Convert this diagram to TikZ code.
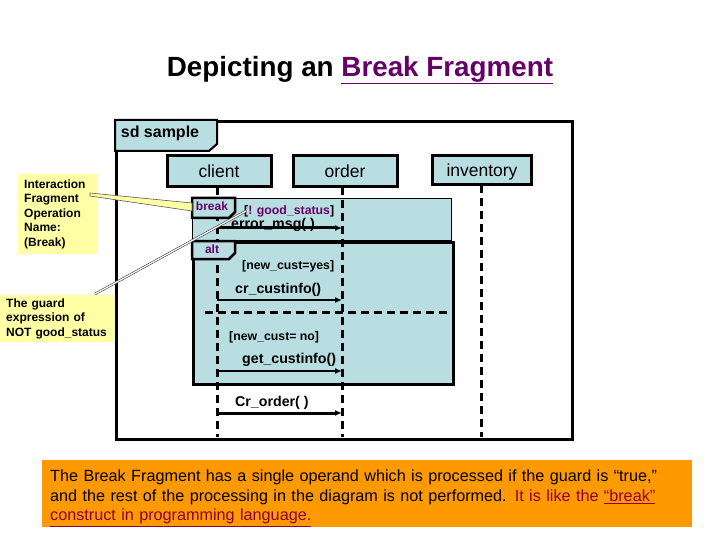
\documentclass[tikz,border=0pt]{standalone}
\usepackage{fontspec}
\setmainfont{Liberation Sans}
\usetikzlibrary{arrows.meta}
\definecolor{lb}{RGB}{185,222,226}
\definecolor{pur}{RGB}{102,0,102}
\definecolor{notey}{RGB}{255,255,165}
\definecolor{orng}{RGB}{255,153,0}
\definecolor{dred}{RGB}{140,0,55}
\newcommand\fsz[2]{\fontsize{#1}{#2}\selectfont}
\tikzset{
  lifebox/.style={draw, line width=3pt, fill=lb, minimum width=104pt, minimum height=31pt, inner sep=0pt, font=\fsz{17.5}{20}},
  lifeline/.style={line width=3pt, dash pattern=on 8pt off 5pt},
  tabbox/.style={draw, line width=2.5pt, fill=lb},
  msg/.style={-{Latex[length=7pt,width=6pt]}},
  msgtext/.style={anchor=west, inner sep=0pt, font=\bfseries\fsz{14.2}{16}},
  guard/.style={anchor=west, inner sep=0pt, font=\bfseries\fsz{12.3}{15}},
  tabtext/.style={inner sep=0pt, text=pur, font=\bfseries\fsz{12}{14}},
  note/.style={fill=notey, anchor=north west, align=left, inner sep=0pt, font=\bfseries\fsz{12}{14.5}},
}
\begin{document}
\begin{tikzpicture}[x=1pt,y=-1pt]
\useasboundingbox (0,0) rectangle (720,540);
% title
\node[font=\bfseries\fsz{27.8}{32}, inner sep=0pt] (title) at (360,70) {Depicting an \textcolor{pur}{\underline{Break Fragment}}};
% sd frame
\node[draw, line width=3pt, anchor=north west, minimum width=456pt, minimum height=318pt, inner sep=0pt] (frame) at (115,120) {};
\draw[tabbox, line width=2pt] (115,120) -- (217,120) -- (217,144) -- (209,151) -- (115,151) -- cycle;
\node[inner sep=0pt, font=\bfseries\fsz{16}{19}] (sdlabel) at (160,133) {sd sample};
% fragments
\node[draw, line width=1pt, fill=lb, anchor=north west, minimum width=259pt, minimum height=42pt, inner sep=0pt] (breakfrag) at (192,198) {};
\node[draw, line width=3pt, fill=lb, anchor=north west, minimum width=260pt, minimum height=142pt, inner sep=0pt] (altfrag) at (192,241) {};
% lifeline heads
\node[lifebox] (client) at (219,171) {client};
\node[lifebox] (order) at (345,171) {order};
\node[lifebox, minimum width=99pt, minimum height=29pt, text height=12.5pt, text depth=0pt] (inventory) at (482,170) {inventory};
% lifelines
\coordinate (cT) at (217,187); \coordinate (cB) at (217,437);
\coordinate (oT) at (342,187); \coordinate (oB) at (342,437);
\coordinate (iT) at (481,185); \coordinate (iB) at (481,437);
\draw[lifeline] (cT) -- (cB);
\draw[lifeline] (oT) -- (oB);
\draw[lifeline] (iT) -- (iB);
% operand separator
\coordinate (sepL) at (205,312); \coordinate (sepR) at (452,312);
\draw[lifeline] (sepL) -- (sepR);
% tabs
\draw[tabbox] (192,198) -- (235,198) -- (235,212) -- (229,218) -- (192,218) -- cycle;
\node[tabtext] (breaklbl) at (212,206) {break};
\draw[tabbox] (192,241) -- (235,241) -- (235,253) -- (229,259) -- (192,259) -- cycle;
\node[tabtext] (altlbl) at (212,249) {alt};
% guards and messages
\node[guard, text=pur] (g1) at (244,211) {\textcolor{black}{[}! good\_status\textcolor{black}{]}};
\node[msgtext] (m1) at (231,225) {error\_msg( )};
\coordinate (m1a) at (217,228); \coordinate (m1b) at (342,228);
\draw[msg, line width=3pt] (m1a) -- (m1b);
\node[guard] (g2) at (242,266) {[new\_cust=yes]};
\node[msgtext] (m2) at (235,290) {cr\_custinfo()};
\coordinate (m2a) at (217,300); \coordinate (m2b) at (342,300);
\draw[msg, line width=2pt] (m2a) -- (m2b);
\node[guard] (g3) at (229,337) {[new\_cust= no]};
\node[msgtext] (m3) at (242,360) {get\_custinfo()};
\coordinate (m3a) at (217,371); \coordinate (m3b) at (342,371);
\draw[msg, line width=2pt] (m3a) -- (m3b);
\node[msgtext] (m4) at (235,403) {Cr\_order( )};
\coordinate (m4a) at (217,413); \coordinate (m4b) at (342,413);
\draw[msg, line width=3pt] (m4a) -- (m4b);
% notes
\node[note, minimum width=80pt, minimum height=80pt, text width=80pt] (note1) at (18,174) {\hspace*{6pt}Interaction\\\hspace*{6pt}Fragment\\\hspace*{6pt}Operation\\\hspace*{6pt}Name:\\\hspace*{6pt}(Break)};
\node[note, minimum width=115pt, minimum height=47pt, text width=115pt] (note2) at (0,295) {\hspace*{6pt}The guard\\\hspace*{6pt}expression of\\\hspace*{6pt}NOT good\_status};
% callout connectors
\coordinate (w1a) at (90,193); \coordinate (w1b) at (90,196);
\coordinate (w1c) at (192,211); \coordinate (w1d) at (192,203);
\draw[fill=notey, draw=gray!70!black, line width=0.6pt] (w1a) -- (w1d) -- (w1c) -- (w1b) -- cycle;
\coordinate (w2a) at (95,294); \coordinate (w2b) at (246,211);
\draw[draw=gray!50!black, double=white, double distance=1.2pt, line width=0.6pt] (w2a) -- (w2b);
% bottom text
\node[fill=orng, anchor=north west, minimum width=650pt, minimum height=67pt, inner sep=0pt] (captionbox) at (42,460) {};
\node[anchor=north west, text width=640pt, inner sep=0pt, align=left, font=\fsz{16.2}{19.5}] (caption) at (50,470) {The Break Fragment has a single operand which is processed if the guard is ``true,''\\and the rest of the processing in the diagram is not performed. \textcolor{dred}{It is like the \underline{``break''}}\\\textcolor{dred}{\underline{construct in programming language.}}};
\end{tikzpicture}
\end{document}
